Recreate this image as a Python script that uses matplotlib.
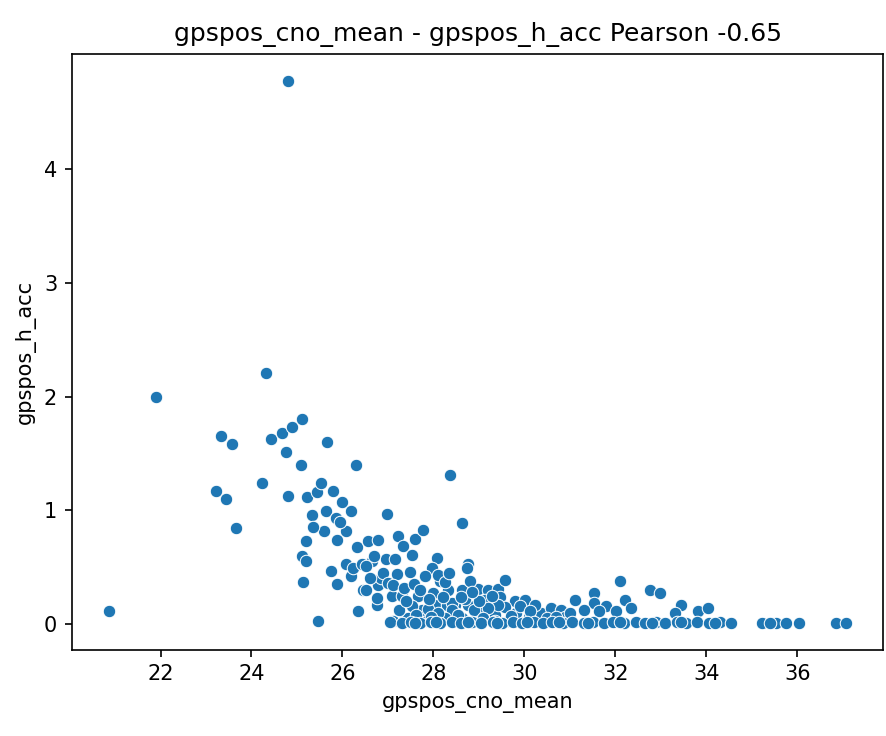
import matplotlib
matplotlib.use("Agg")
import matplotlib.pyplot as plt
import seaborn as sns
import pandas as pd

# Sparse / upper points
x_upper = [20.86, 21.89, 24.81, 24.31, 23.23, 23.34, 23.58, 23.45, 23.67, 24.24,
           24.44, 24.66, 24.88, 25.10, 24.75, 25.08, 24.81, 25.65, 26.29, 28.37,
           28.62, 25.47, 25.14, 26.99]
y_upper = [0.11, 2.00, 4.78, 2.21, 1.17, 1.65, 1.58, 1.10, 0.84, 1.24,
           1.63, 1.68, 1.73, 1.80, 1.51, 1.40, 1.13, 1.60, 1.40, 1.31,
           0.89, 0.03, 0.37, 0.97]

# Cluster 25 - 27.5
x_mid = [25.21, 25.43, 25.52, 25.80, 25.98, 26.18, 25.32, 25.63, 25.85, 25.60,
         25.36, 26.07, 25.87, 25.19, 25.12, 25.19, 25.74, 26.07, 25.87, 26.18,
         26.24, 26.46, 26.31, 26.57, 26.79, 26.42, 26.64, 26.51, 26.35, 26.75,
         26.79, 26.84, 26.51, 26.75, 26.95, 27.16, 27.23, 27.34, 27.08, 27.30,
         27.12, 27.38, 26.70, 26.90, 27.00, 26.60, 27.20, 25.95]
y_mid = [1.12, 1.16, 1.24, 1.17, 1.07, 0.99, 0.96, 0.99, 0.93, 0.82,
         0.85, 0.82, 0.74, 0.73, 0.60, 0.55, 0.47, 0.53, 0.35, 0.42,
         0.49, 0.30, 0.68, 0.73, 0.74, 0.53, 0.55, 0.51, 0.11, 0.17,
         0.34, 0.40, 0.30, 0.23, 0.57, 0.57, 0.77, 0.69, 0.25, 0.25,
         0.03, 0.05, 0.60, 0.45, 0.36, 0.40, 0.44, 0.90]

# Cluster 27.5 - 30.5
x_dense = [27.60, 27.78, 27.52, 28.07, 27.96, 27.49, 27.82, 28.15, 28.11, 27.12,
           27.67, 28.00, 28.33, 28.62, 28.99, 29.21, 29.43, 28.77, 28.73, 28.81,
           29.58, 28.26, 27.74, 28.04, 28.29, 28.48, 27.52, 27.52, 27.85, 28.18,
           28.48, 28.04, 28.48, 29.05, 29.36, 29.82, 30.37, 29.14, 29.47, 29.80,
           30.02, 28.40, 28.77, 29.58, 29.43, 30.24, 30.59, 30.81, 28.40, 27.45,
           28.26, 28.62, 28.99, 29.36, 29.65,
           27.25, 27.40, 27.62, 27.88, 28.10, 28.55, 28.90, 29.20, 29.70, 30.10,
           27.35, 27.58, 27.90, 28.20, 28.70, 29.00, 29.28, 29.90, 30.50, 27.70,
           28.35, 28.85, 29.10, 27.95, 28.60]
y_dense = [0.75, 0.83, 0.61, 0.58, 0.49, 0.46, 0.42, 0.38, 0.43, 0.34,
           0.25, 0.27, 0.30, 0.30, 0.31, 0.30, 0.31, 0.53, 0.49, 0.38,
           0.39, 0.37, 0.12, 0.17, 0.17, 0.17, 0.16, 0.03, 0.03, 0.03,
           0.03, 0.08, 0.10, 0.10, 0.08, 0.10, 0.10, 0.21, 0.24, 0.20,
           0.21, 0.18, 0.17, 0.15, 0.17, 0.17, 0.14, 0.12, 0.12, 0.05,
           0.05, 0.05, 0.03, 0.03, 0.03,
           0.12, 0.20, 0.08, 0.13, 0.10, 0.08, 0.12, 0.14, 0.07, 0.06,
           0.32, 0.35, 0.22, 0.24, 0.22, 0.20, 0.25, 0.16, 0.05, 0.30,
           0.45, 0.28, 0.05, 0.06, 0.24]

# Cluster 30 - 34
x_right = [31.12, 32.11, 31.52, 31.52, 31.80, 32.22, 31.30, 31.63, 30.13, 32.02,
           32.77, 32.99, 32.35, 33.45, 33.32, 33.82, 34.04, 30.90, 31.00, 30.70]
y_right = [0.21, 0.38, 0.27, 0.18, 0.16, 0.21, 0.12, 0.11, 0.11, 0.11,
           0.30, 0.27, 0.14, 0.17, 0.10, 0.11, 0.14, 0.06, 0.10, 0.06]

# Bottom row near zero
x_floor = [27.05, 27.30, 27.50, 27.70, 27.95, 28.15, 28.40, 28.60, 28.85, 29.05,
           29.30, 29.50, 29.75, 29.95, 30.20, 30.40, 30.60, 30.85, 31.05, 31.30,
           31.50, 31.75, 31.95, 32.20, 32.45, 32.65, 32.90, 33.10, 33.35, 33.55,
           33.80, 34.05, 34.30, 34.55, 35.23, 35.54, 35.76, 36.04, 36.86, 37.08,
           27.60, 28.05, 28.75, 29.40, 30.05, 30.75, 31.40, 32.10, 32.80, 33.45,
           34.20, 35.40]
y_floor = [0.02, 0.01, 0.02, 0.01, 0.02, 0.01, 0.02, 0.01, 0.02, 0.01,
           0.02, 0.01, 0.02, 0.01, 0.02, 0.01, 0.02, 0.01, 0.02, 0.01,
           0.02, 0.01, 0.02, 0.01, 0.02, 0.01, 0.02, 0.01, 0.02, 0.01,
           0.02, 0.01, 0.02, 0.01, 0.01, 0.01, 0.01, 0.01, 0.01, 0.01,
           0.01, 0.02, 0.02, 0.01, 0.02, 0.02, 0.01, 0.02, 0.01, 0.02,
           0.01, 0.01]

x_all = x_upper + x_mid + x_dense + x_right + x_floor
y_all = y_upper + y_mid + y_dense + y_right + y_floor
df = pd.DataFrame({"gpspos_cno_mean": x_all, "gpspos_h_acc": y_all})

fig = plt.figure(figsize=(886 / 150, 736 / 150), dpi=150)
ax = fig.add_axes([0.081, 0.117, 0.916, 0.810])
sns.scatterplot(data=df, x="gpspos_cno_mean", y="gpspos_h_acc", ax=ax)
ax.set_title("gpspos_cno_mean - gpspos_h_acc Pearson -0.65")
ax.set_xticks([22, 24, 26, 28, 30, 32, 34, 36])
ax.set_yticks([0, 1, 2, 3, 4])
fig.savefig("out.png", dpi=150)
